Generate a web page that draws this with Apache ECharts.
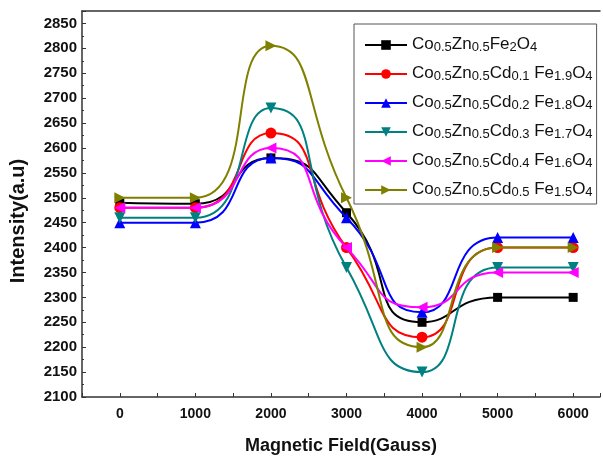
<!DOCTYPE html>
<html>
<head>
<meta charset="utf-8">
<script src="https://cdn.jsdelivr.net/npm/echarts@6/dist/echarts.min.js"></script>
<style>
  html, body { margin: 0; padding: 0; background: #fff; }
  #chart { width: 603px; height: 460px; }
</style>
</head>
<body>
<div id="chart"></div>
<script>
// field values (Gauss)
const fields = [0, 1000, 2000, 3000, 4000, 5000, 6000]

// intensity
const cd00 = [2490, 2488, 2580, 2470, 2250, 2300, 2300]
const cd01 = [2480, 2480, 2630, 2400, 2220, 2400, 2400]
const cd02 = [2450, 2450, 2580, 2460, 2270, 2420, 2420]
const cd03 = [2460, 2460, 2680, 2360, 2150, 2360, 2360]
const cd04 = [2480, 2480, 2600, 2400, 2280, 2350, 2350]
const cd05 = [2500, 2500, 2805, 2500, 2200, 2400, 2400]

// legend labels, split into normal / subscript parts
const names = [
  ['Co', '0.5', 'Zn', '0.5', 'Fe', '2', 'O', '4'],
  ['Co', '0.5', 'Zn', '0.5', 'Cd', '0.1', ' Fe', '1.9', 'O', '4'],
  ['Co', '0.5', 'Zn', '0.5', 'Cd', '0.2', ' Fe', '1.8', 'O', '4'],
  ['Co', '0.5', 'Zn', '0.5', 'Cd', '0.3', ' Fe', '1.7', 'O', '4'],
  ['Co', '0.5', 'Zn', '0.5', 'Cd', '0.4', ' Fe', '1.6', 'O', '4'],
  ['Co', '0.5', 'Zn', '0.5', 'Cd', '0.5', ' Fe', '1.5', 'O', '4']
]
const values = [cd00, cd01, cd02, cd03, cd04, cd05]
const colors = ['#000000', '#ff0000', '#0000ff', '#008080', '#ff00ff', '#808000']
const symbols = ['rect', 'circle', 'triangle', 'triangle', 'triangle', 'triangle']
const rotates = [0, 0, 0, 180, 90, -90]

const plainName = (p) => p.join('')
const richName = (p) => p.map((t, i) => (i % 2 ? '{s|' + t + '}' : '{n|' + t + '}')).join('')
const richMap = {}
names.forEach((p) => { richMap[plainName(p)] = richName(p) })

const series = values.map((v, k) => ({
  name: plainName(names[k]),
  type: 'line',
  smooth: 0.6,
  data: fields.map((f, i) => [f, v[i]]),
  symbol: symbols[k],
  symbolSize: k === 0 ? 9 : 11,
  symbolRotate: rotates[k],
  lineStyle: { width: 2, color: colors[k] },
  itemStyle: { color: colors[k] },
  z: 2 + k
}))

const font = 'Liberation Sans, Arial, sans-serif'

const chart = echarts.init(document.getElementById('chart'))
chart.setOption({
  animation: false,
  grid: { left: 82, right: 0, top: 11, bottom: 55 },
  legend: {
    orient: 'vertical',
    left: 354,
    top: 24,
    width: 246,
    padding: [6, 4, 5, 10],
    itemGap: 5,
    itemWidth: 42,
    itemHeight: 12,
    borderColor: '#555',
    borderWidth: 1,
    backgroundColor: '#fff',
    formatter: (name) => richMap[name],
    textStyle: {
      fontFamily: font,
      color: '#111',
      rich: {
        n: { fontFamily: font, fontSize: 17, lineHeight: 18, verticalAlign: 'top', color: '#111' },
        s: { fontFamily: font, fontSize: 13, lineHeight: 14, verticalAlign: 'bottom', padding: [11, 0, 0, 0], color: '#111' }
      }
    },
    data: series.map((s) => s.name)
  },
  xAxis: [
    {
      type: 'value',
      min: -500,
      max: 6355,
      interval: 500,
      name: 'Magnetic Field(Gauss)',
      nameLocation: 'middle',
      nameGap: 40,
      nameTextStyle: { fontFamily: font, fontSize: 18, fontWeight: 'bold', color: '#111' },
      axisLine: { onZero: false, lineStyle: { color: '#333', width: 1.5 } },
      axisTick: { inside: true, length: 4, lineStyle: { color: '#333' } },
      axisLabel: {
        margin: 10,
        fontFamily: font,
        fontSize: 14,
        fontWeight: 'bold',
        color: '#111',
        formatter: (v) => (v >= 0 && v <= 6000 && v % 1000 === 0 ? String(v) : '')
      },
      splitLine: { show: false }
    },
    {
      type: 'value',
      position: 'top',
      min: -500,
      max: 6355,
      axisLine: { show: true, onZero: false, lineStyle: { color: '#333', width: 1.5 } },
      axisTick: { show: false },
      axisLabel: { show: false },
      splitLine: { show: false }
    }
  ],
  yAxis: {
    type: 'value',
    min: 2100,
    max: 2875,
    interval: 50,
    name: 'Intensity(a.u)',
    nameLocation: 'middle',
    nameGap: 54,
    nameTextStyle: { fontFamily: font, fontSize: 20, fontWeight: 'bold', color: '#111', padding: [0, 34, 0, 0] },
    axisLine: { show: true, onZero: false, lineStyle: { color: '#333', width: 1.5 } },
    axisTick: { inside: true, length: 4, lineStyle: { color: '#333' } },
    minorTick: { show: true, splitNumber: 2, length: 2, lineStyle: { color: '#333' } },
    axisLabel: {
      margin: 5,
      fontFamily: font,
      fontSize: 15,
      fontWeight: 'bold',
      color: '#111',
      formatter: (v) => (v % 50 === 0 && v <= 2850 ? String(v) : '')
    },
    splitLine: { show: false }
  },
  series
})
</script>
</body>
</html>
